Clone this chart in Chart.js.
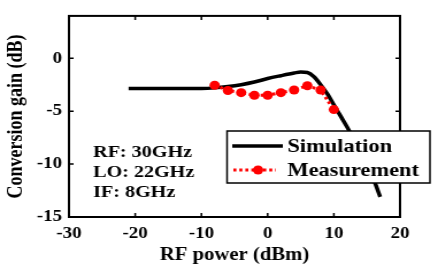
<!DOCTYPE html>
<html>
<head>
<meta charset="utf-8">
<script src="https://cdn.jsdelivr.net/npm/chart.js@4.4.1/dist/chart.umd.min.js"></script>
<style>
  html, body { margin: 0; padding: 0; background: #fff; }
  #chart { display: block; }
</style>
</head>
<body>
<!-- drawn at 381 px wide and stretched to 438 px, like the source picture -->
<canvas id="chart" width="381" height="276" style="width:438px;height:276px"></canvas>
<script>
// データ
const simX = [-21, -15, -10, -8, -6, -4, -2, 0, 2, 4, 5, 6, 7, 8, 9, 10, 11, 12, 13, 14, 15, 16, 17];
const simY = [-2.85, -2.85, -2.85, -2.8, -2.68, -2.5, -2.25, -1.92, -1.65, -1.4, -1.3, -1.35, -1.75, -2.5, -3.35, -4.4, -5.45, -6.5, -7.65, -8.85, -10.1, -11.45, -13.1];
const measX = [-8, -6, -4, -2, 0, 2, 4, 6, 8, 10];
const measY = [-2.55, -3.05, -3.25, -3.5, -3.5, -3.25, -3.0, -2.6, -3.0, -4.85];
const xTicks = [-30, -20, -10, 0, 10, 20];
const yTicks = [-15, -10, -5, 0];
const seriesNames = ['Simulation', 'Measurement'];
const noteLines = ['RF: 30GHz', 'LO: 22GHz', 'IF: 8GHz'];

const serif = '"Liberation Serif", "Times New Roman", serif';

// 枠・内向き目盛り・凡例・注記
const framePlugin = {
  id: 'frame',
  afterDatasetsDraw(chart) {
    const { ctx, chartArea: a, scales: { x, y } } = chart;
    ctx.save();
    ctx.strokeStyle = '#000';
    ctx.lineWidth = 2;
    ctx.strokeRect(a.left, a.top, a.right - a.left, a.bottom - a.top);

    ctx.lineWidth = 1.5;
    ctx.beginPath();
    xTicks.forEach(v => {
      const px = x.getPixelForValue(v);
      ctx.moveTo(px, a.bottom); ctx.lineTo(px, a.bottom - 4);
      ctx.moveTo(px, a.top); ctx.lineTo(px, a.top + 4);
    });
    yTicks.forEach(v => {
      const py = y.getPixelForValue(v);
      ctx.moveTo(a.left, py); ctx.lineTo(a.left + 4, py);
      ctx.moveTo(a.right, py); ctx.lineTo(a.right - 4, py);
    });
    ctx.stroke();

    // 注記
    ctx.fillStyle = '#000';
    ctx.font = 'bold 17.5px ' + serif;
    ctx.textBaseline = 'alphabetic';
    noteLines.forEach((t, i) => ctx.fillText(t, 81, 157 + i * 20));

    // 凡例
    ctx.fillStyle = '#fff';
    ctx.fillRect(197.5, 131, 176.5, 52);
    ctx.lineWidth = 1.5;
    ctx.strokeRect(197.5, 131, 176.5, 52);

    ctx.strokeStyle = '#000';
    ctx.lineWidth = 3.5;
    ctx.beginPath();
    ctx.moveTo(202, 146); ctx.lineTo(246, 146);
    ctx.stroke();

    ctx.strokeStyle = '#ff0000';
    ctx.lineWidth = 3;
    ctx.setLineDash([2.6, 2.6]);
    ctx.beginPath();
    ctx.moveTo(203, 170); ctx.lineTo(240, 170);
    ctx.stroke();
    ctx.setLineDash([]);
    ctx.fillStyle = '#ff0000';
    ctx.beginPath();
    ctx.arc(224.5, 170, 4.5, 0, Math.PI * 2);
    ctx.fill();

    ctx.fillStyle = '#000';
    ctx.font = 'bold 19.5px ' + serif;
    ctx.fillText(seriesNames[0], 250, 152);
    ctx.fillText(seriesNames[1], 250, 176);
    ctx.restore();
  }
};

const ctx = document.getElementById('chart');
new Chart(ctx, {
  type: 'line',
  data: {
    datasets: [{
      label: seriesNames[0],
      data: simX.map((v, i) => ({ x: v, y: simY[i] })),
      borderColor: '#000',
      borderWidth: 3.5,
      pointRadius: 0,
      cubicInterpolationMode: 'monotone',
      fill: false,
      order: 1
    }, {
      label: seriesNames[1],
      data: measX.map((v, i) => ({ x: v, y: measY[i] })),
      borderColor: '#ff0000',
      borderWidth: 3,
      borderDash: [2.6, 2.6],
      pointRadius: 4.5,
      pointBackgroundColor: '#ff0000',
      pointBorderWidth: 0,
      fill: false,
      order: 0
    }]
  },
  options: {
    responsive: false,
    animation: false,
    devicePixelRatio: 1,
    layout: { padding: { left: 0, right: 33, top: 11, bottom: 0 } },
    plugins: {
      legend: { display: false },
      tooltip: { enabled: false }
    },
    scales: {
      x: {
        type: 'linear',
        min: -30,
        max: 20,
        afterBuildTicks: s => { s.ticks = xTicks.map(v => ({ value: v })); },
        afterFit: s => { s.height = 59; },
        grid: { display: false, drawTicks: false },
        border: { display: false },
        ticks: {
          color: '#000',
          padding: 7,
          maxRotation: 0,
          font: { family: serif, size: 16.5, weight: 'bold' }
        },
        title: {
          display: true,
          text: 'RF power (dBm)',
          color: '#000',
          padding: { top: 4, bottom: 10 },
          font: { family: serif, size: 18, weight: 'bold' }
        }
      },
      y: {
        type: 'linear',
        min: -15,
        max: 4,
        afterBuildTicks: s => { s.ticks = yTicks.map(v => ({ value: v })); },
        afterFit: s => { s.width = 60; },
        grid: { display: false, drawTicks: false },
        border: { display: false },
        ticks: {
          color: '#000',
          padding: 6,
          font: { family: serif, size: 16.5, weight: 'bold' }
        },
        title: {
          display: true,
          text: 'Conversion gain (dB)',
          color: '#000',
          padding: { top: 4, bottom: 4 },
          font: { family: serif, size: 18, weight: 'bold' }
        }
      }
    }
  },
  plugins: [framePlugin]
});
</script>
</body>
</html>
